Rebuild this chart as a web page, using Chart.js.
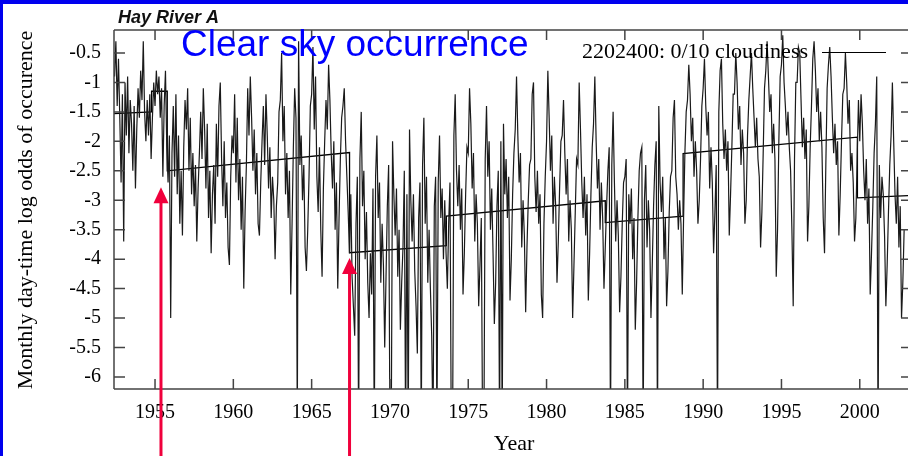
<!DOCTYPE html>
<html>
<head>
<meta charset="utf-8">
<style>
  html, body { margin: 0; padding: 0; background: #fff; }
</style>
</head>
<body>
<canvas id="chart" width="908" height="456"></canvas>
<script src="https://cdn.jsdelivr.net/npm/chart.js"></script>
<script>
// monthly log odds, series starts June 1952
const startYear = 1952, startMonth = 5;
const clear1950s = [
  -0.9, -0.3, -1.4, -0.6, -1.6, -2.7, -1.2,
  -3.7, -1.0, -1.9, -0.9, -2.2, -1.3, -1.7, -2.5, -1.4, -2.8, -1.8, -1.1,
  -1.6, -0.8, -1.3, -0.3, -1.5, -2.0, -1.3, -1.9, -1.2, -2.3, -1.6, -1.0,
  -1.4, -0.8, -1.2, -0.9, -1.6, -1.1, -2.6, -1.4, -0.8, -2.1, -2.7, -1.9,
  -5.0, -2.2, -1.4, -2.6, -1.2, -2.9, -1.9, -3.4, -2.5, -3.6, -2.1, -1.3,
  -1.8, -1.1, -2.5, -1.6, -2.9, -2.2, -3.1, -2.4, -3.7, -2.8, -2.2, -1.5,
  -2.3, -1.1, -1.8, -2.8, -1.7, -3.3, -2.5, -3.9, -2.9, -2.4, -3.4, -1.7,
  -2.6, -1.4, -1.0, -2.3, -3.1, -2.0, -3.3, -2.7, -3.8, -4.1, -2.6, -1.9
];
const clear1960s = [
  -2.2, -1.2, -2.7, -1.6, -3.0, -2.3, -3.5, -2.6, -4.5, -3.2, -2.4, -1.1,
  -1.9, -0.9, -1.6, -2.5, -1.8, -2.9, -2.2, -3.4, -3.6, -2.7, -2.0, -1.4,
  -2.4, -1.2, -1.9, -2.8, -2.1, -3.3, -2.6, -3.0, -4.0, -3.1, -2.7, -1.5,
  -1.3, -0.5, -2.0, -1.4, -2.9, -2.2, -3.3, -2.5, -4.6, -3.4, -2.1, -1.1,
  -1.6, -6.8, -0.3, -2.4, -1.9, -3.0, -2.4, -3.8, -4.2, -3.5, -2.6, -1.4,
  -1.2, -0.4, -1.8, -0.9, -2.6, -3.2, -2.1, -3.5, -4.3, -2.8, -2.0, -1.3,
  -1.8, -0.7, -1.3, -2.2, -2.8, -2.0, -3.5, -2.7, -4.5, -3.3, -2.3, -1.6,
  -1.4, -1.1, -2.0, -2.6, -3.2, -3.9, -2.9, -4.3, -4.8, -5.3, -3.4, -2.6,
  -7.0, -2.3, -1.5, -3.1, -2.5, -4.0, -3.2, -4.4, -5.0, -3.9, -4.6, -2.8,
  -7.0, -2.6, -1.9, -3.3, -2.7, -4.4, -3.4, -4.1, -5.5, -4.3, -3.1, -2.4
];
const clear1970s = [
  -7.0, -7.0, -2.0, -2.9, -3.6, -2.8, -4.3, -3.5, -5.2, -4.4, -3.8, -2.5,
  -7.0, -2.9, -7.0, -1.8, -3.0, -3.7, -2.9, -4.2, -4.8, -5.6, -3.3, -2.7,
  -7.0, -2.4, -1.6, -3.4, -2.6, -4.4, -3.5, -4.5, -5.3, -7.0, -3.1, -2.6,
  -7.0, -2.7, -1.9, -3.3, -2.8, -4.0, -3.0, -3.9, -4.5, -3.4, -2.7, -7.0,
  -7.0, -1.9, -1.2, -2.5, -3.1, -2.4, -3.5, -2.8, -4.6, -3.9, -2.9, -2.1,
  -2.2, -1.1, -1.7, -2.8, -2.2, -3.7, -2.9, -3.4, -4.8, -4.1, -3.3, -7.0,
  -7.0, -2.3, -1.4, -2.6, -2.0, -3.5, -2.8, -3.9, -5.1, -4.4, -3.1, -2.5,
  -7.0, -2.0, -7.0, -1.7, -2.9, -2.3, -3.3, -2.6, -4.7, -4.0, -2.9, -2.2,
  -1.8, -0.9, -1.9, -2.7, -2.2, -3.8, -3.0, -3.6, -4.9, -3.8, -3.0, -2.4,
  -2.3, -1.2, -1.0, -2.6, -3.2, -2.5, -3.4, -2.9, -4.6, -5.0, -3.4, -2.6
];
const clear1980s = [
  -2.0, -0.8, -1.6, -2.5, -1.9, -3.4, -2.6, -3.1, -4.4, -3.7, -2.8, -2.0,
  -1.9, -1.3, -2.2, -2.9, -2.3, -3.7, -3.0, -3.5, -5.0, -4.1, -3.2, -2.3,
  -2.4, -1.0, -1.8, -2.7, -3.3, -2.6, -3.6, -2.9, -4.7, -3.9, -2.9, -2.1,
  -1.7, -0.9, -2.0, -2.8, -2.3, -3.5, -2.7, -3.3, -4.5, -3.8, -3.1, -2.5,
  -2.1, -7.0, -2.4, -1.5, -2.7, -3.7, -3.0, -3.6, -4.9, -4.3, -3.4, -2.7,
  -2.6, -2.3, -7.0, -2.9, -3.4, -2.8, -4.0, -3.3, -5.2, -4.4, -3.3, -2.5,
  -2.2, -2.1, -7.0, -3.0, -2.4, -3.8, -3.0, -3.5, -5.0, -4.1, -3.1, -2.4,
  -2.0, -7.0, -1.4, -2.7, -3.2, -2.6, -4.0, -3.3, -4.8, -4.2, -3.2, -2.6,
  -2.5, -1.6, -1.3, -2.6, -2.9, -3.5, -3.0, -3.4, -4.6, -3.3, -2.2, -1.5,
  -1.3, -0.7, -1.2, -2.0, -1.6, -2.6, -2.0, -2.5, -3.4, -3.0, -2.3, -1.4
];
const clear1990s = [
  -1.1, -0.6, -1.4, -1.9, -1.5, -2.8, -2.1, -2.7, -3.9, -3.2, -2.4, -7.0,
  -1.5, -0.8, -0.6, -1.7, -2.3, -1.8, -2.5, -2.0, -3.6, -2.9, -2.1, -1.2,
  -1.2, -0.5, -1.0, -1.8, -1.4, -2.4, -1.8, -2.2, -3.4, -3.0, -1.9, -1.3,
  -0.9, -0.5, -1.1, -1.6, -2.1, -1.6, -2.3, -2.6, -3.8, -3.2, -2.2, -1.1,
  -0.8, -0.3, -0.9, -1.5, -1.2, -2.2, -1.7, -2.3, -4.3, -3.5, -2.0, -0.9,
  -0.7, -0.2, -1.0, -1.4, -1.9, -1.5, -2.1, -2.5, -3.5, -4.8, -2.3, -1.0,
  -1.0, -0.4, -0.5, -1.3, -2.1, -1.6, -2.3, -1.8, -3.7, -3.1, -2.1, -1.4,
  -0.6, -0.3, -0.8, -1.5, -1.1, -2.0, -1.5, -2.1, -3.3, -3.9, -2.4, -1.1,
  -0.7, -0.4, -0.9, -1.6, -2.2, -1.7, -2.4, -2.0, -3.6, -2.9, -2.0, -1.2,
  -1.1, -0.5, -1.0, -1.7, -1.3, -2.5, -2.2, -2.7, -3.7, -3.3, -2.3, -1.3
];
const clear2000s = [
  -2.0, -1.2, -1.7, -2.5, -3.0, -2.3, -3.4, -2.8, -4.6, -3.9, -3.1, -2.2,
  -1.7, -0.9, -7.0, -2.4, -3.3, -2.6, -2.9, -3.6, -4.8, -4.1, -3.2, -2.4,
  -1.9, -1.0, -2.0, -2.9, -3.4, -2.6, -3.8, -3.1, -5.0, -4.4, -3.5
];

// piecewise trend fit (break points drawn as vertical steps)
const trendYears = [1952.38, 1954.78, 1954.78, 1955.78, 1955.78, 1967.42, 1967.42, 1973.6,
  1973.6, 1983.75, 1983.75, 1988.72, 1988.72, 1999.85, 1999.85, 2003.1];
const trendVals = [-1.53, -1.50, -1.15, -1.15, -2.50, -2.19, -3.89, -3.77,
  -3.27, -3.01, -3.38, -3.27, -2.21, -1.93, -2.96, -2.92];

const xTicks = [1955, 1960, 1965, 1970, 1975, 1980, 1985, 1990, 1995, 2000];
const yTicks = [-6, -5.5, -5, -4.5, -4, -3.5, -3, -2.5, -2, -1.5, -1, -0.5];

// station changes marked with red arrows
const arrowYears = [1955.38, 1967.42];
const arrowTips = [-2.78, -3.98];

const monthly = [].concat(clear1950s, clear1960s, clear1970s, clear1980s, clear1990s, clear2000s);
const series = monthly.map((v, i) => ({ x: startYear + (startMonth + i) / 12, y: v }));
const trend = trendYears.map((x, i) => ({ x: x, y: trendVals[i] }));

const serif = "'Liberation Serif', 'DejaVu Serif', serif";
const sans = "'Liberation Sans', Arial, sans-serif";

const decorations = {
  id: 'decorations',
  afterDraw(chart) {
    const ctx = chart.ctx;
    const a = chart.chartArea;
    const xs = chart.scales.x, ys = chart.scales.y;
    ctx.save();

    // frame and inward ticks (gnuplot style)
    ctx.strokeStyle = '#444';
    ctx.lineWidth = 1.5;
    ctx.beginPath();
    ctx.moveTo(a.left, a.top); ctx.lineTo(a.right, a.top);
    ctx.moveTo(a.left, a.top); ctx.lineTo(a.left, a.bottom);
    ctx.moveTo(a.left, a.bottom); ctx.lineTo(a.right, a.bottom);
    xTicks.forEach(t => {
      const px = xs.getPixelForValue(t);
      ctx.moveTo(px, a.bottom); ctx.lineTo(px, a.bottom - 10);
      ctx.moveTo(px, a.top); ctx.lineTo(px, a.top + 10);
    });
    yTicks.forEach(t => {
      const py = ys.getPixelForValue(t);
      ctx.moveTo(a.left, py); ctx.lineTo(a.left + 11, py);
      ctx.moveTo(a.right, py); ctx.lineTo(a.right - 7, py);
    });
    ctx.stroke();

    // texts
    ctx.fillStyle = '#111';
    ctx.font = 'italic bold 18px ' + sans;
    ctx.textAlign = 'left';
    ctx.textBaseline = 'alphabetic';
    ctx.fillText('Hay River A', 118, 23);

    ctx.fillStyle = '#0000ff';
    ctx.font = '37px ' + sans;
    ctx.fillText('Clear sky occurrence', 181, 56);

    ctx.fillStyle = '#000';
    ctx.font = '22px ' + serif;
    ctx.textAlign = 'right';
    ctx.fillText('2202400: 0/10 cloudiness', 808, 58);
    ctx.strokeStyle = '#000';
    ctx.lineWidth = 1;
    ctx.beginPath();
    ctx.moveTo(822, 52.5); ctx.lineTo(886, 52.5);
    ctx.stroke();

    ctx.textAlign = 'center';
    ctx.fillText('Year', 514, 450);

    ctx.save();
    ctx.translate(32, 210);
    ctx.rotate(-Math.PI / 2);
    ctx.fillText('Monthly day-time log odds of occurence', 0, 0);
    ctx.restore();

    // red arrows
    ctx.fillStyle = '#f0003c';
    arrowYears.forEach((yr, i) => {
      const px = xs.getPixelForValue(yr);
      const tip = ys.getPixelForValue(arrowTips[i]);
      ctx.fillRect(px - 1.5, tip + 14, 3, chart.height - tip - 14);
      ctx.beginPath();
      ctx.moveTo(px, tip);
      ctx.lineTo(px - 7.5, tip + 16);
      ctx.lineTo(px + 7.5, tip + 16);
      ctx.closePath();
      ctx.fill();
    });

    // blue frame of the picture
    ctx.fillStyle = '#0000ee';
    ctx.fillRect(0, 0, chart.width, 4);
    ctx.fillRect(0, 0, 3, chart.height);
    ctx.restore();
  }
};

new Chart(document.getElementById('chart'), {
  type: 'scatter',
  data: {
    datasets: [
      {
        data: series,
        showLine: true,
        borderColor: '#1a1a1a',
        borderWidth: 1.2,
        pointRadius: 0,
        tension: 0
      },
      {
        data: trend,
        showLine: true,
        borderColor: '#000',
        borderWidth: 1.3,
        pointRadius: 0,
        tension: 0
      }
    ]
  },
  options: {
    responsive: false,
    animation: false,
    layout: { padding: { left: 10, top: 30, right: 0, bottom: 27 } },
    plugins: { legend: { display: false }, title: { display: false }, tooltip: { enabled: false } },
    scales: {
      x: {
        type: 'linear',
        min: 1952.38,
        max: 2003.08,
        grid: { display: false, drawTicks: false },
        border: { display: false },
        afterBuildTicks: s => { s.ticks = xTicks.map(v => ({ value: v })); },
        afterFit: s => { s.height = 40; },
        ticks: {
          padding: 12,
          color: '#000',
          maxRotation: 0,
          autoSkip: false,
          font: { family: serif, size: 20 },
          callback: v => String(v)
        }
      },
      y: {
        type: 'linear',
        min: -6.204,
        max: -0.11,
        grid: { display: false, drawTicks: false },
        border: { display: false },
        afterBuildTicks: s => { s.ticks = yTicks.map(v => ({ value: v })); },
        afterFit: s => { s.width = 104; },
        ticks: {
          padding: 13,
          color: '#000',
          autoSkip: false,
          font: { family: serif, size: 20 },
          callback: v => String(v)
        }
      }
    }
  },
  plugins: [decorations]
});
</script>
</body>
</html>
